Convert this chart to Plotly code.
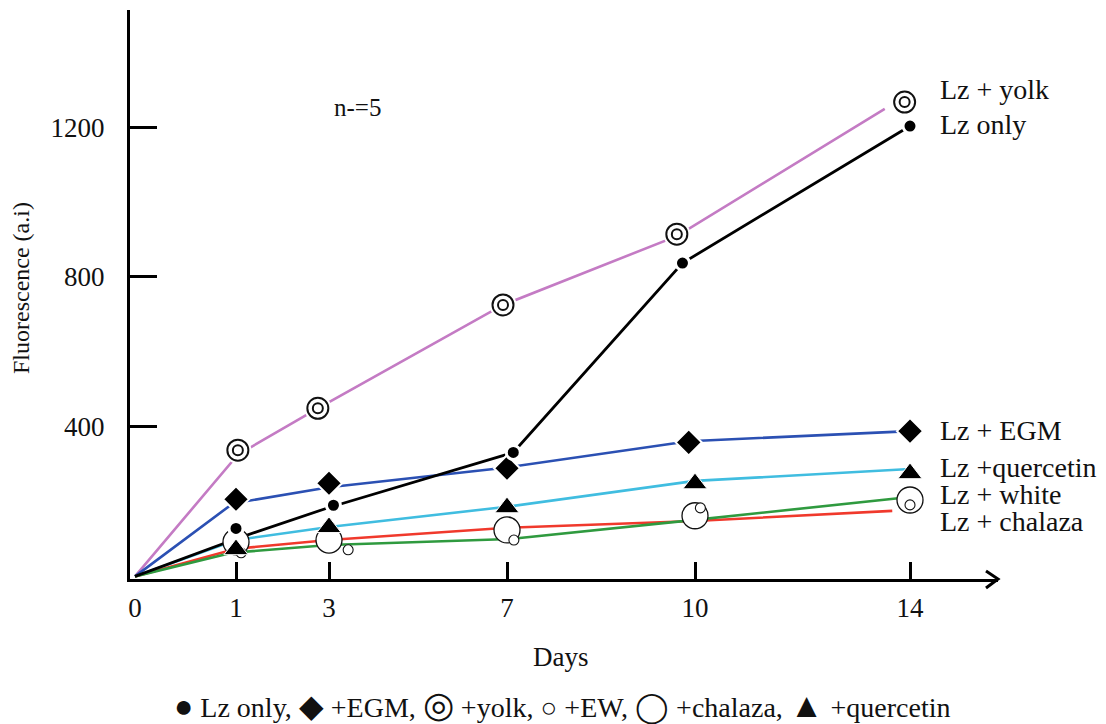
import numpy as np
import plotly.graph_objects as go

# ---------------- data ----------------
day_ticks = [0, 1, 3, 7, 10, 14]
day_labels = ["0", "1", "3", "7", "10", "14"]
y_ticks = [400, 800, 1200]

# Lz only (black, dots)
lz_only_days = [1, 3.1, 7.1, 9.8, 14]
lz_only_vals = [128, 190, 331, 837, 1203]
lz_only_line_days = [0, 1.04, 3.0, 7.1, 9.8, 14]
lz_only_line_vals = [0, 102, 184, 331, 837, 1203]

# Lz + EGM (blue, diamonds)
egm_days = [1, 3, 7, 9.9, 14]
egm_vals = [206, 249, 289, 358, 388]
egm_line_days = [0, 0.97, 3, 7, 9.9, 14]
egm_line_vals = [0, 195, 238, 291, 361, 388]

# Lz + yolk (purple, double circles)
yolk_days = [1.04, 2.76, 6.91, 9.71, 13.9]
yolk_vals = [337, 449, 725, 914, 1267]
yolk_line_days = [0, 1.04, 2.76, 6.91, 9.71, 13.53]
yolk_line_vals = [0, 325, 449, 725, 909, 1249]

# Lz + quercetin (cyan, triangles)
quer_days = [1, 3, 7, 10, 14]
quer_vals = [72, 131, 184, 248, 275]
quer_line_days = [0, 1, 3, 7, 10, 14]
quer_line_vals = [0, 97, 132, 186, 255, 287]

# Lz + chalaza (red line, large open circles)
chal_days = [1, 3, 7, 10, 14]
chal_vals = [92, 97, 124, 162, 204]
chal_line_days = [0, 1, 3, 7, 10, 13.67]
chal_line_vals = [0, 74, 97, 130, 148, 175]

# Lz + white / EW (green line, small open circles)
ew_days = [1.11, 3.43, 7.11, 10.1, 14]
ew_vals = [63, 71, 97, 183, 191]
ew_line_days = [0, 0.96, 3, 7.05, 10, 14]
ew_line_vals = [0, 63, 84, 100, 151, 212]

# ---------------- layout constants ----------------
W, H = 1106, 724
OFF = 8                                     # page body margin of the html
PL, PR, PT, PB = 130, 998, 10, 579          # plot area in window pixels
tick_disp = [5, 106, 199, 377, 565, 780]    # non-linear day axis positions
FONT = "Liberation Serif, Times New Roman, serif"
INK = "#111111"


def xd(days):
    return list(np.interp(days, day_ticks, tick_disp))


def px(x):
    return (x - PL) / (PR - PL)


def py(y):
    return (PB - y) / (PB - PT)


fig = go.Figure()

# lines first
lines = [
    (yolk_line_days, yolk_line_vals, "#c47bc4", 2.6),
    (egm_line_days, egm_line_vals, "#2b50b3", 2.6),
    (quer_line_days, quer_line_vals, "#40bde0", 2.6),
    (chal_line_days, chal_line_vals, "#f0392c", 2.6),
    (ew_line_days, ew_line_vals, "#2f9a3f", 2.6),
    (lz_only_line_days, lz_only_line_vals, "#000000", 2.8),
]
for d, v, c, w in lines:
    fig.add_trace(go.Scatter(x=xd(d), y=v, mode="lines",
                             line=dict(color=c, width=w),
                             showlegend=False, hoverinfo="skip"))


def markers(d, v, symbol, size, fill, lcolor, lwidth):
    fig.add_trace(go.Scatter(x=xd(d), y=v, mode="markers",
                             marker=dict(symbol=symbol, size=size, color=fill,
                                         line=dict(color=lcolor, width=lwidth)),
                             showlegend=False, hoverinfo="skip"))


# chalaza large open circles
markers(chal_days, chal_vals, "circle", 26, "white", "#111111", 1.3)
# EW small open circles
markers(ew_days, ew_vals, "circle", 10, "white", "#111111", 1.1)
# quercetin triangles
markers(quer_days, quer_vals, "triangle-up", 21, "black", "white", 1)
# EGM diamonds
markers(egm_days, egm_vals, "diamond", 20, "black", "white", 2)
# Lz only dots
markers(lz_only_days, lz_only_vals, "circle", 14, "black", "white", 3)
# yolk double circles (white halo, outer ring, inner ring)
markers(yolk_days, yolk_vals, "circle", 27, "white", "white", 0)
markers(yolk_days, yolk_vals, "circle", 21, "white", "#111111", 2)
markers(yolk_days, yolk_vals, "circle", 10, "white", "#111111", 2)

# dummy trace so the tick-only overlay axis is drawn
fig.add_trace(go.Scatter(x=[None], y=[None], xaxis="x2", mode="markers",
                         showlegend=False, hoverinfo="skip"))

annotations = []


def text(x, y, s, size=28, xanchor="center", angle=0):
    annotations.append(dict(x=px(x), y=py(y), xref="paper", yref="paper",
                            text=s, showarrow=False, xanchor=xanchor,
                            yanchor="middle", textangle=angle,
                            font=dict(family=FONT, size=size, color=INK)))


text(938, 90, "Lz + yolk", xanchor="left")
text(938, 124, "Lz only", xanchor="left")
text(938, 430, "Lz + EGM", xanchor="left")
text(938, 467, "Lz +quercetin", xanchor="left")
text(938, 494, "Lz + white", xanchor="left")
text(938, 521, "Lz + chalaza", xanchor="left")
text(357, 108, "n-=5", size=25)
text(561, 657, "Days", size=27)
text(21, 288, "Fluorescence (a.i)", size=24, angle=-90)


def sym(ch, size):
    return f'<span style="font-size:{size}px">{ch}</span>'


legend_text = (sym("●", 32) + " Lz only, " + sym("◆", 32) + " +EGM, "
               + sym("◎", 36) + " +yolk, " + sym("○", 28) + " +EW, "
               + sym("◯", 30) + " +chalaza, " + sym("▲", 34) + " +quercetin")
text(562, 705, legend_text, size=28)

# x-axis arrow head
ax0, ay0 = px(986), py(571)
ax1, ay1 = px(PR), py(PB)
ax2, ay2 = px(986), py(588)
shapes = [dict(type="path", xref="paper", yref="paper",
               path=f"M {ax0},{ay0} L {ax1},{ay1} L {ax2},{ay2}",
               line=dict(color="black", width=3))]

fig.update_layout(
    width=W - OFF, height=H - OFF, autosize=False,
    margin=dict(l=PL - OFF, r=W - PR, t=PT - OFF, b=H - PB, pad=0),
    plot_bgcolor="white", paper_bgcolor="white",
    showlegend=False,
    annotations=annotations, shapes=shapes,
    xaxis=dict(range=[0, PR - PL], tickvals=tick_disp, ticktext=day_labels,
               ticks="", showline=True, linewidth=3, linecolor="black",
               showgrid=False, zeroline=False, ticklabelstandoff=3,
               tickfont=dict(family=FONT, size=27, color=INK), fixedrange=True),
    xaxis2=dict(range=[0, PR - PL], overlaying="x", anchor="y", side="bottom",
                tickvals=tick_disp[1:], ticks="inside", ticklen=17,
                tickwidth=2.5, tickcolor="black", showticklabels=False,
                showline=False, showgrid=False, zeroline=False),
    yaxis=dict(range=[-7, 1513], tickvals=y_ticks,
               ticktext=[str(t) for t in y_ticks],
               ticks="inside", ticklen=27, tickwidth=2.5, tickcolor="black",
               showline=True, linewidth=3, linecolor="black",
               showgrid=False, zeroline=False, ticklabelstandoff=17,
               tickfont=dict(family=FONT, size=27, color=INK)),
)

fig.write_html("out.html")
